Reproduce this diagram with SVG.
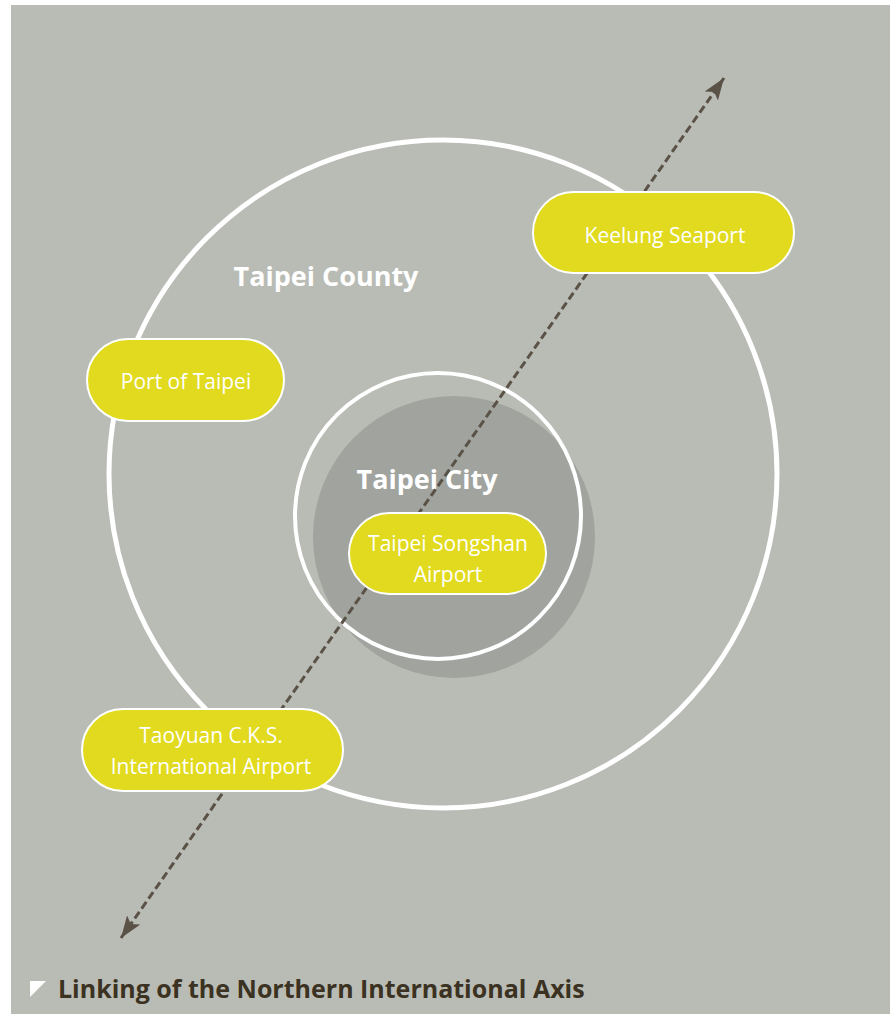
<svg xmlns="http://www.w3.org/2000/svg" width="890" height="1014" viewBox="0 0 890 1014">
<defs>
<style>
.pill{fill:#e1da1e;stroke:#ffffff;stroke-width:2}
.pt{font-family:"Open Sans","Noto Sans",sans-serif;font-size:21px;fill:#ffffff;text-anchor:middle}
.big{font-family:"Open Sans","Noto Sans",sans-serif;font-size:27px;font-weight:bold;fill:#ffffff;text-anchor:middle}
.ring{fill:none;stroke:#ffffff}
</style>
<marker id="ah" viewBox="0 0 22 16" refX="22" refY="8" markerWidth="22" markerHeight="16" markerUnits="userSpaceOnUse" orient="auto-start-reverse">
<path d="M0,0 L22,8 L0,16 L5,8 Z" fill="#5b5247"/>
</marker>
</defs>
<rect x="0" y="0" width="890" height="1014" fill="#ffffff"/>
<rect x="11" y="5" width="879" height="1009" fill="#b9bbb5"/>
<g id="taipei-county">
<circle class="ring" cx="443" cy="474" r="334" stroke-width="5"/>
<text class="big" x="326" y="286">Taipei County</text>
</g>
<g id="taipei-city">
<circle cx="454" cy="537" r="141" fill="#a0a39e"/>
<circle class="ring" cx="438" cy="516" r="143" stroke-width="4"/>
<text class="big" x="427" y="489">Taipei City</text>
</g>
<g id="connectors">
<line x1="121" y1="938" x2="724" y2="78" stroke="#5b5247" stroke-width="3" stroke-dasharray="8 4" marker-start="url(#ah)" marker-end="url(#ah)"/>
</g>
<g id="keelung-seaport">
<rect class="pill" x="533" y="192" width="261" height="81" rx="40.5"/>
<text class="pt" x="665" y="243">Keelung Seaport</text>
</g>
<g id="port-of-taipei">
<rect class="pill" x="87" y="339" width="197" height="82" rx="41"/>
<text class="pt" x="186" y="389">Port of Taipei</text>
</g>
<g id="songshan-airport">
<rect class="pill" x="349" y="513" width="197" height="81" rx="40.5"/>
<text class="pt" x="448" y="551">Taipei Songshan</text>
<text class="pt" x="448" y="582">Airport</text>
</g>
<g id="taoyuan-airport">
<rect class="pill" x="82" y="709" width="261" height="82" rx="41"/>
<text class="pt" x="211" y="743">Taoyuan C.K.S.</text>
<text class="pt" x="211" y="774">International Airport</text>
</g>
<g id="caption">
<path d="M30,981 L46,981 L30,997 Z" fill="#ffffff"/>
<text x="58" y="998" font-family="'Open Sans','Noto Sans',sans-serif" font-size="25" font-weight="bold" fill="#3b3222">Linking of the Northern International Axis</text>
</g>
</svg>
